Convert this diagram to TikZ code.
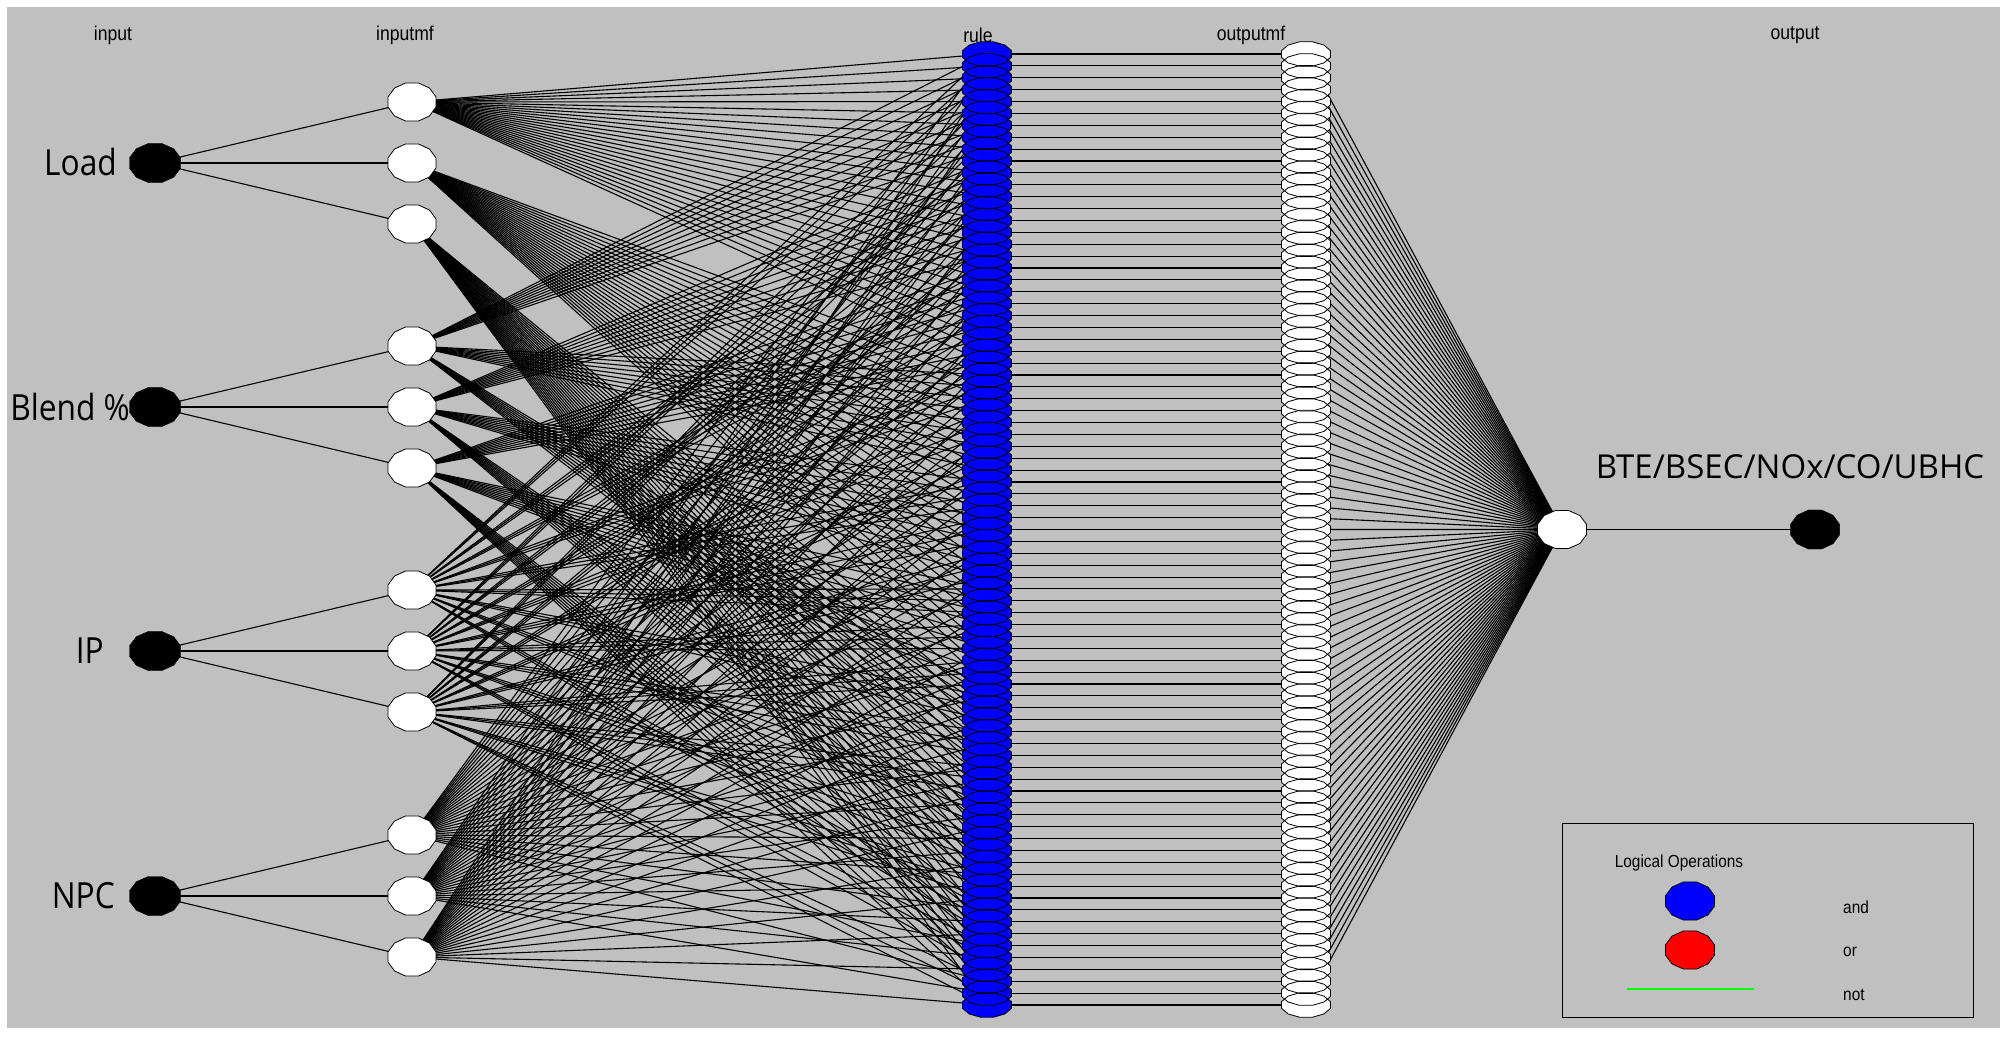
\documentclass[tikz,border=0pt]{standalone}
\usepackage{fontspec}
\usetikzlibrary{shapes.geometric}
\newfontfamily\fsmall[Scale=2.0,FakeStretch=0.88]{Liberation Sans}
\newfontfamily\flegend[Scale=1.75,FakeStretch=0.88]{Liberation Sans}
\newfontfamily\fbig[Scale=3.6,FakeStretch=0.88]{Open Sans}
\newfontfamily\fout[Scale=3.3]{Open Sans}
\definecolor{bg}{RGB}{192,192,192}
% 12-gon around a named node: name, rx, ry, style
\newcommand\dodec[4]{%
  \path[#4, shift={(#1.center)}] (15:#2pt and #3pt) -- (45:#2pt and #3pt) -- (75:#2pt and #3pt)
   -- (105:#2pt and #3pt) -- (135:#2pt and #3pt) -- (165:#2pt and #3pt) -- (195:#2pt and #3pt)
   -- (225:#2pt and #3pt) -- (255:#2pt and #3pt) -- (285:#2pt and #3pt) -- (315:#2pt and #3pt)
   -- (345:#2pt and #3pt) -- cycle;}
\begin{document}
\begin{tikzpicture}[x=1pt,y=-1pt,
  hid/.style={shape=ellipse,draw=none,inner sep=0pt,minimum width=48pt,minimum height=38pt},
  conn/.style={line width=1.1pt,draw=black},
  lblsmall/.style={font=\fsmall,inner sep=0pt},
  lbllegend/.style={font=\flegend,inner sep=0pt},
  lblbig/.style={font=\fbig,inner sep=0pt}]
\useasboundingbox (0,0) rectangle (2007,1036);
\fill[bg] (7,7) rectangle (2000,1028);
% nodes (positions)
\foreach \i/\y in {1/163,2/407,3/651,4/896}{
  \node[hid] (in\i) at (155,\y) {};
  \foreach \j/\dd in {1/-61,2/0,3/61}{
    \node[hid] (mf\i\j) at (412,{\y+\dd}) {};}
}
\foreach \k in {0,...,80}{
  \node[hid,minimum height=24pt] (r\k) at (987,{54+\k*11.8875}) {};
  \node[hid,minimum height=24pt] (o\k) at (1306,{54+\k*11.8875}) {};
}
\node[hid] (omf) at (1562,529.5) {};
\node[hid] (outn) at (1815,529.5) {};
% connectors
\foreach \i in {1,2,3,4}{
  \foreach \j in {1,2,3}{
    \draw[conn] (in\i.center) -- (mf\i\j.center);}}
\foreach \k in {0,...,80}{
  \pgfmathtruncatemacro\ia{int(\k/27)+1}
  \pgfmathtruncatemacro\ib{mod(int(\k/9),3)+1}
  \pgfmathtruncatemacro\ic{mod(int(\k/3),3)+1}
  \pgfmathtruncatemacro\ie{mod(\k,3)+1}
  \draw[conn] (mf1\ia.center) -- (r\k.center);
  \draw[conn] (mf2\ib.center) -- (r\k.center);
  \draw[conn] (mf3\ic.center) -- (r\k.center);
  \draw[conn] (mf4\ie.center) -- (r\k.center);
  \draw[conn] (r\k.center) -- (o\k.center);
  \draw[conn] (o\k.center) -- (omf.center);
}
\draw[conn] (omf.center) -- (outn.center);
% node shapes
\foreach \i in {1,2,3,4}{
  \dodec{in\i}{26.4}{20.2}{fill=black,draw=black}
  \foreach \j in {1,2,3}{
    \dodec{mf\i\j}{24.8}{19.7}{fill=white,draw=black,line width=0.8pt}}
}
\foreach \k in {0,...,80}{
  \dodec{r\k}{25.4}{12.6}{fill=blue}
  \dodec{o\k}{25.4}{12.6}{fill=white}
}
\foreach \k in {0,...,80}{
  \dodec{r\k}{25.4}{12.6}{draw=black,line width=0.8pt}
  \dodec{o\k}{25.4}{12.6}{draw=black,line width=0.8pt}
}
\dodec{omf}{25.4}{19.7}{fill=white,draw=black,line width=0.8pt}
\dodec{outn}{25.4}{20.2}{fill=black,draw=black}
% column labels
\node[lblsmall] (tin) at (113,35) {input};
\node[lblsmall] (tinmf) at (405,35) {inputmf};
\node[lblsmall] (trule) at (978,35) {rule};
\node[lblsmall] (toutmf) at (1251,35) {outputmf};
\node[lblsmall] (tout) at (1795,35) {output};
% variable labels
\node[lblbig,anchor=base east] (lload) at (117,175) {Load};
\node[lblbig,anchor=base east] (lblend) at (130,420) {Blend \%};
\node[lblbig,anchor=base east] (lip) at (104,663) {IP};
\node[lblbig,anchor=base east] (lnpc) at (115,908) {NPC};
\node[inner sep=0pt,font=\fout,anchor=base] (lout) at (1790,478) {BTE/BSEC/NOx/CO/UBHC};
% legend
\node[draw=black,line width=0.8pt,inner sep=0pt,minimum width=411pt,minimum height=194pt,anchor=north west] (leg) at (1562,823) {};
\node[lbllegend] (lgt) at (1679,863) {Logical Operations};
\node[hid] (land) at (1690,901) {};
\node[hid] (lor) at (1690,950) {};
\dodec{land}{25.4}{19.7}{fill=blue,draw=black,line width=0.8pt}
\dodec{lor}{25.4}{19.7}{fill=red,draw=black,line width=0.8pt}
\coordinate (g1) at (1627,989);
\coordinate (g2) at (1754,989);
\draw[green,line width=1.6pt] (g1) -- (g2);
\node[lbllegend,anchor=west] (tand) at (1843,907) {and};
\node[lbllegend,anchor=west] (tor) at (1843,952) {or};
\node[lbllegend,anchor=west] (tnot) at (1843,995) {not};
\end{tikzpicture}
\end{document}
